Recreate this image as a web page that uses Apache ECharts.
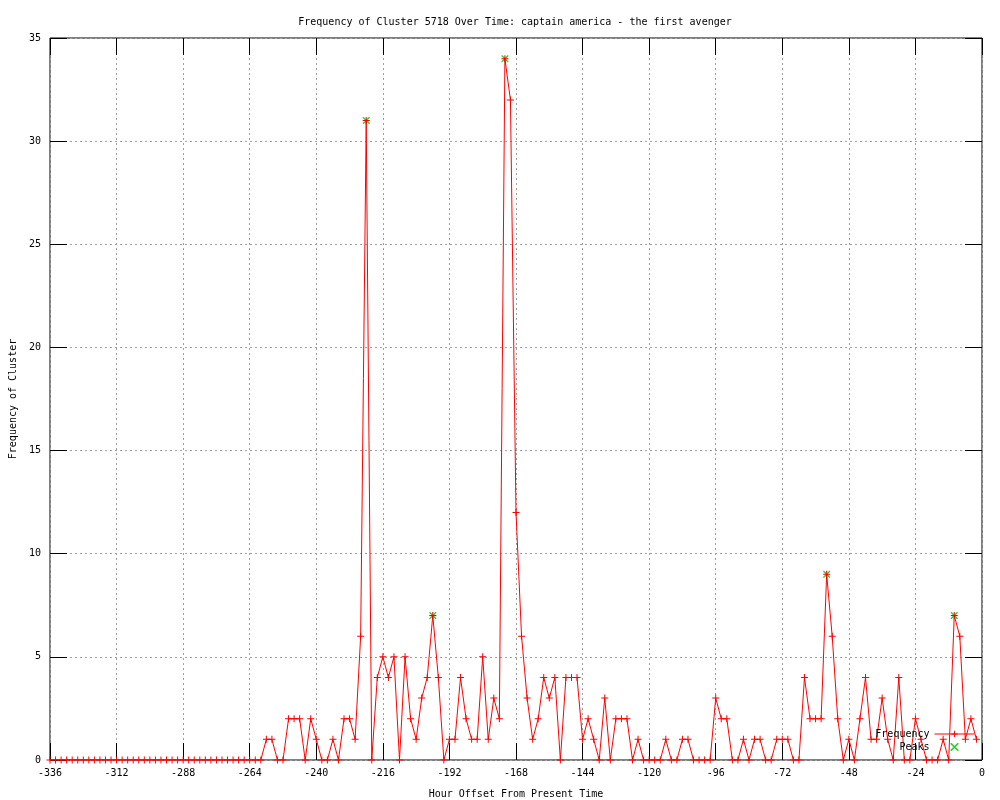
<!DOCTYPE html>
<html>
<head>
<meta charset="utf-8">
<script src="https://cdn.jsdelivr.net/npm/echarts@6/dist/echarts.min.js"></script>
<style>html,body{margin:0;padding:0;background:#fff}#c{width:1000px;height:800px}</style>
</head>
<body>
<div id="c"></div>
<script>
// Hour offsets run from -336 to -2 in steps of 2
const startHour = -336;
const stepHours = 2;
const frequency = [
  0,0,0,0,0,0,0,0,0,0, 0,0,0,0,0,0,0,0,0,0, 0,0,0,0,0,0,0,0,0,0, 0,0,0,0,0,0,
  0,0,0,1,1,0,0,2,2,2,
  0,2,1,0,0,1,0,2,2,1,
  6,31,0,4,5,4,5,0,5,2,
  1,3,4,7,4,0,1,1,4,2,
  1,1,5,1,3,2,34,32,12,6,
  3,1,2,4,3,4,0,4,4,4,
  1,2,1,0,3,0,2,2,2,0,
  1,0,0,0,0,1,0,0,1,1,
  0,0,0,0,3,2,2,0,0,1,
  0,1,1,0,0,1,1,1,0,0,
  4,2,2,2,9,6,2,0,1,0,
  2,4,1,1,3,1,0,4,0,0,
  2,1,0,0,0,1,0,7,6,1,
  2,1
];
const peakHours = [-222, -198, -172, -56, -10];
const peakValues = [31, 7, 34, 9, 7];
const xTickLabels = [-336,-312,-288,-264,-240,-216,-192,-168,-144,-120,-96,-72,-48,-24,0];
const yTickLabels = [0,5,10,15,20,25,30,35];

const hours = frequency.map((_, i) => startHour + i * stepHours);
const freqData = hours.map((h, i) => [h, frequency[i]]);
const peakData = peakHours.map((h, i) => [h, peakValues[i]]);

const FONT = 'DejaVu Sans Mono';
const crossPath = 'path://M0,3H7V4H0Z M3,0H4V7H3Z';
const xPath = 'path://M0,0L1,0L7,6L7,7L6,7L0,1Z M6,0L7,0L7,1L1,7L0,7L0,6Z';

const chart = echarts.init(document.getElementById('c'), null, {renderer: 'canvas'});
const gridLine = () => ({show: true, lineStyle: {color: '#a0a0a0', type: [2, 3], width: 1}});
const tick = () => ({show: true, inside: true, length: 17, lineStyle: {color: '#000', width: 1}});
const xMin = xTickLabels[0], xMax = xTickLabels[xTickLabels.length - 1];
const yMin = yTickLabels[0], yMax = yTickLabels[yTickLabels.length - 1];
chart.setOption({
  animation: false,
  backgroundColor: '#fff',
  title: {
    text: 'Frequency of Cluster 5718 Over Time: captain america - the first avenger',
    left: 510, top: 12, textAlign: 'center',
    textStyle: {fontFamily: FONT, fontSize: 10, fontWeight: 'normal', color: '#000'}
  },
  grid: {left: 50, right: 18, top: 38, bottom: 40, show: true, borderColor: '#000', borderWidth: 1,
         containLabel: false, outerBoundsMode: 'none'},
  legend: {
    orient: 'vertical', right: 20, top: 724, align: 'right',
    itemWidth: 40, itemHeight: 8, itemGap: 3,
    formatter: name => name.padStart(9, ' '),
    textStyle: {fontFamily: FONT, fontSize: 10, color: '#000'},
    lineStyle: {width: 1},
    data: ['Frequency', 'Peaks']
  },
  xAxis: [{
    type: 'value', gridIndex: 0, min: xMin, max: xMax, interval: 24,
    position: 'bottom', offset: 0,
    name: 'Hour Offset From Present Time', nameLocation: 'middle', nameGap: 29,
    nameTextStyle: {fontFamily: FONT, fontSize: 10, color: '#000'},
    axisLine: {show: false, onZero: false}, axisTick: tick(), splitLine: gridLine(),
    axisLabel: {fontFamily: FONT, fontSize: 10, color: '#000', margin: 8}
  }, {
    type: 'value', gridIndex: 0, min: xMin, max: xMax, interval: 24,
    position: 'top', offset: 0,
    axisLine: {show: false, onZero: false}, axisTick: tick(), splitLine: {show: false}, axisLabel: {show: false}
  }],
  yAxis: [{
    type: 'value', gridIndex: 0, min: yMin, max: yMax, interval: 5,
    position: 'left', offset: 0,
    name: 'Frequency of Cluster', nameLocation: 'middle', nameGap: 32,
    nameTextStyle: {fontFamily: FONT, fontSize: 10, color: '#000'},
    axisLine: {show: false, onZero: false}, axisTick: tick(), splitLine: gridLine(),
    axisLabel: {fontFamily: FONT, fontSize: 10, color: '#000', margin: 9}
  }, {
    type: 'value', gridIndex: 0, min: yMin, max: yMax, interval: 5,
    position: 'right', offset: 0,
    axisLine: {show: false, onZero: false}, axisTick: tick(), splitLine: {show: false}, axisLabel: {show: false}
  }],
  series: [{
    name: 'Frequency', type: 'line', data: freqData,
    xAxisIndex: 0, yAxisIndex: 0,
    lineStyle: {color: '#ff0000', width: 1},
    itemStyle: {color: '#ff0000'},
    symbol: crossPath, symbolSize: 7, showAllSymbol: true,
    z: 3
  }, {
    name: 'Peaks', type: 'scatter', data: peakData,
    xAxisIndex: 0, yAxisIndex: 0,
    itemStyle: {color: '#00c000'},
    symbol: xPath, symbolSize: 7,
    z: 2
  }]
});
</script>
</body>
</html>
